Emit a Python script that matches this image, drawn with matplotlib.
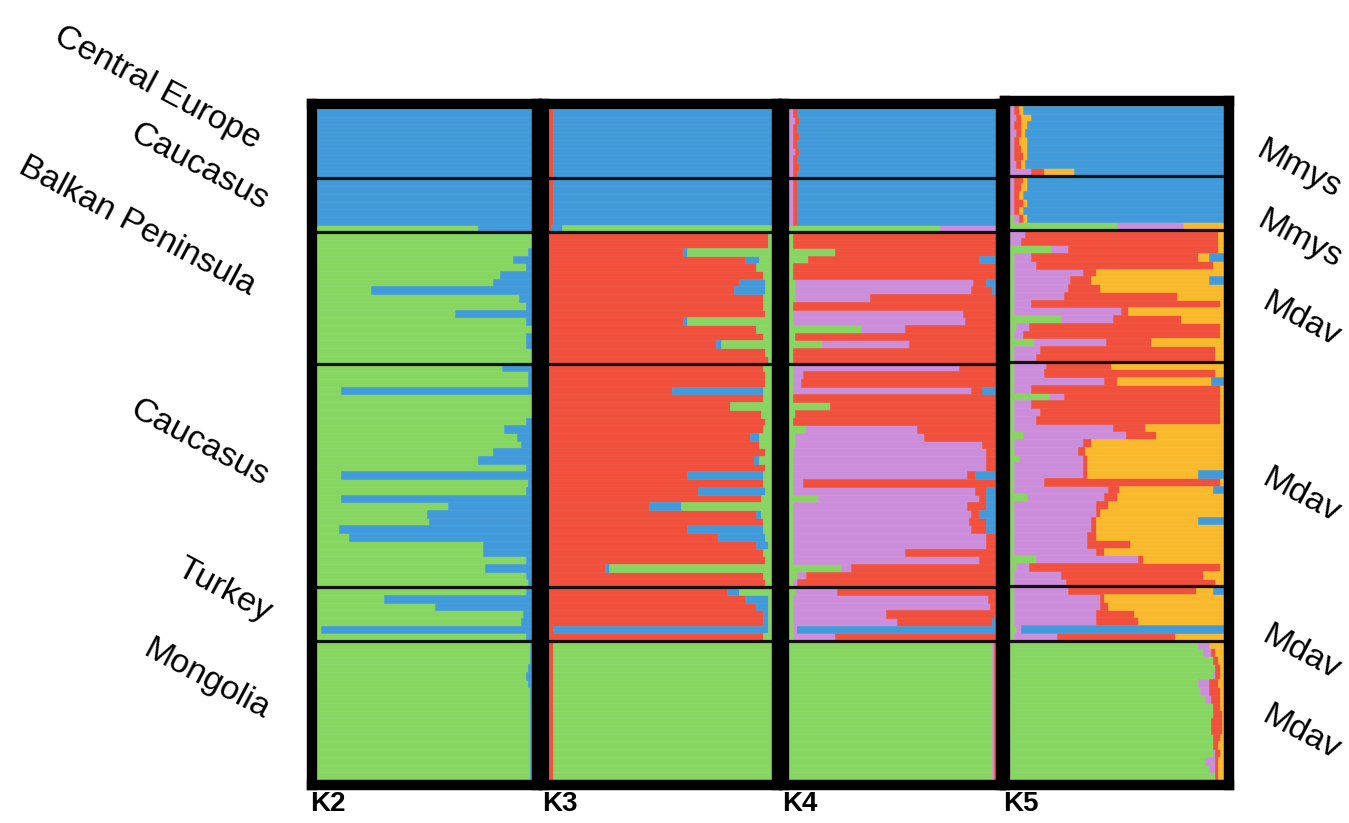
import numpy as np
import matplotlib.pyplot as plt

plt.rcParams['font.family'] = ['Liberation Sans', 'DejaVu Sans']

BLUE = '#419ad9'
GREEN = '#87d662'
RED = '#f0503c'
PURPLE = '#cc8ddb'
ORANGE = '#f9b92c'

# populations, top to bottom
pop_left = ['Central Europe', 'Caucasus', 'Balkan Peninsula', 'Caucasus', 'Turkey', 'Mongolia']
pop_right = ['Mmys', 'Mmys', 'Mdav', 'Mdav', 'Mdav', 'Mdav']

# ---- K2 : (green, blue) ----
k2_ce = [(0.0, 1.0)] * 9
k2_cau_mmys = [(0.0, 1.0)] * 6 + [(0.75, 0.25)]
k2_balkan = [(1.0, 0.0), (1.0, 0.0), (0.98, 0.02), (0.91, 0.09), (0.97, 0.03), (0.85, 0.15),
             (0.82, 0.18), (0.25, 0.75), (0.94, 0.06), (0.97, 0.03), (0.64, 0.36), (0.97, 0.03),
             (1.0, 0.0), (0.97, 0.03), (0.97, 0.03), (1.0, 0.0), (1.0, 0.0)]
k2_cau_mdav = [(0.86, 0.14), (0.98, 0.02), (0.98, 0.02), (0.11, 0.89), (1.0, 0.0), (1.0, 0.0),
               (1.0, 0.0), (0.97, 0.03), (0.87, 0.13), (0.93, 0.07), (0.95, 0.05), (0.82, 0.18),
               (0.75, 0.25), (0.97, 0.03), (0.11, 0.89), (0.98, 0.02), (0.97, 0.03), (0.11, 0.89),
               (0.61, 0.39), (0.51, 0.49), (0.52, 0.48), (0.10, 0.90), (0.15, 0.85), (0.77, 0.23),
               (0.77, 0.23), (0.97, 0.03), (0.78, 0.22), (0.97, 0.03), (0.98, 0.02)]
k2_turkey = [(0.97, 0.03), (0.31, 0.69), (0.55, 0.45), (0.96, 0.04), (0.95, 0.05),
             (0.02, 0.98), (0.97, 0.03)]
k2_mongolia = [(0.99, 0.01), (0.99, 0.01), (0.99, 0.01), (0.98, 0.02), (0.97, 0.03), (0.98, 0.02),
               (0.99, 0.01), (0.99, 0.01), (0.99, 0.01), (0.99, 0.01), (0.99, 0.01), (0.99, 0.01),
               (0.99, 0.01), (0.99, 0.01), (0.99, 0.01), (0.99, 0.01), (0.99, 0.01), (0.99, 0.01)]

# ---- K3 : (red, blue, green) ----
k3_ce = [(0.02, 0.98, 0.0)] * 9
k3_cau_mmys = [(0.02, 0.98, 0.0)] * 6 + [(0.01, 0.05, 0.94)]
k3_balkan = [(0.98, 0.0, 0.02), (0.98, 0.0, 0.02), (0.60, 0.02, 0.38), (0.88, 0.06, 0.06),
             (0.93, 0.0, 0.07), (0.96, 0.0, 0.04), (0.85, 0.12, 0.03), (0.83, 0.14, 0.03),
             (0.96, 0.0, 0.04), (0.96, 0.0, 0.04), (0.97, 0.0, 0.03), (0.60, 0.02, 0.38),
             (0.93, 0.0, 0.07), (0.96, 0.0, 0.04), (0.75, 0.02, 0.23), (0.97, 0.0, 0.03),
             (0.98, 0.0, 0.02)]
k3_cau_mdav = [(0.96, 0.0, 0.04), (0.97, 0.0, 0.03), (0.97, 0.0, 0.03), (0.55, 0.41, 0.04),
               (0.96, 0.0, 0.04), (0.81, 0.0, 0.19), (0.95, 0.0, 0.05), (0.97, 0.0, 0.03),
               (0.96, 0.0, 0.04), (0.90, 0.04, 0.06), (0.94, 0.0, 0.06), (0.97, 0.0, 0.03),
               (0.92, 0.02, 0.06), (0.97, 0.0, 0.03), (0.62, 0.34, 0.04), (0.96, 0.0, 0.04),
               (0.67, 0.30, 0.03), (0.95, 0.0, 0.05), (0.45, 0.14, 0.41), (0.93, 0.02, 0.05),
               (0.96, 0.0, 0.04), (0.62, 0.34, 0.04), (0.76, 0.21, 0.03), (0.93, 0.05, 0.02),
               (0.96, 0.0, 0.04), (0.97, 0.0, 0.03), (0.25, 0.02, 0.73), (0.96, 0.0, 0.04),
               (0.97, 0.0, 0.03)]
k3_turkey = [(0.80, 0.05, 0.15), (0.88, 0.10, 0.02), (0.93, 0.05, 0.02), (0.96, 0.02, 0.02),
             (0.96, 0.02, 0.02), (0.02, 0.96, 0.02), (0.96, 0.0, 0.04)]
k3_mongolia = [(0.02, 0.0, 0.98)] * 18

# ---- K4 : (green, purple, red, blue) ----
k4_ce = [(0.0, 0.02, 0.02, 0.96), (0.0, 0.03, 0.02, 0.95), (0.0, 0.02, 0.02, 0.96),
         (0.0, 0.02, 0.03, 0.95), (0.0, 0.02, 0.02, 0.96), (0.0, 0.03, 0.02, 0.95),
         (0.0, 0.02, 0.02, 0.96), (0.0, 0.02, 0.03, 0.95), (0.0, 0.02, 0.02, 0.96)]
k4_cau_mmys = [(0.0, 0.02, 0.02, 0.96)] * 6 + [(0.73, 0.27, 0.0, 0.0)]
k4_balkan = [(0.02, 0.0, 0.98, 0.0), (0.02, 0.0, 0.98, 0.0), (0.22, 0.0, 0.78, 0.0),
             (0.09, 0.0, 0.83, 0.08), (0.02, 0.0, 0.98, 0.0), (0.02, 0.0, 0.98, 0.0),
             (0.03, 0.86, 0.06, 0.05), (0.03, 0.85, 0.10, 0.02), (0.03, 0.36, 0.61, 0.0),
             (0.02, 0.0, 0.98, 0.0), (0.02, 0.82, 0.16, 0.0), (0.02, 0.83, 0.15, 0.0),
             (0.35, 0.21, 0.44, 0.0), (0.03, 0.0, 0.97, 0.0), (0.16, 0.42, 0.42, 0.0),
             (0.02, 0.0, 0.98, 0.0), (0.02, 0.0, 0.98, 0.0)]
k4_cau_mdav = [(0.02, 0.80, 0.18, 0.0), (0.02, 0.05, 0.93, 0.0), (0.02, 0.04, 0.94, 0.0),
               (0.02, 0.86, 0.05, 0.07), (0.02, 0.0, 0.98, 0.0), (0.20, 0.0, 0.80, 0.0),
               (0.03, 0.0, 0.97, 0.0), (0.02, 0.0, 0.98, 0.0), (0.08, 0.54, 0.38, 0.0),
               (0.03, 0.62, 0.35, 0.0), (0.03, 0.90, 0.07, 0.0), (0.02, 0.93, 0.05, 0.0),
               (0.02, 0.93, 0.05, 0.0), (0.02, 0.93, 0.05, 0.0), (0.02, 0.84, 0.04, 0.10),
               (0.02, 0.05, 0.93, 0.0), (0.02, 0.88, 0.05, 0.05), (0.14, 0.78, 0.03, 0.05),
               (0.02, 0.84, 0.09, 0.05), (0.02, 0.86, 0.04, 0.08), (0.02, 0.85, 0.08, 0.05),
               (0.02, 0.86, 0.07, 0.05), (0.02, 0.93, 0.05, 0.0), (0.02, 0.93, 0.05, 0.0),
               (0.02, 0.54, 0.44, 0.0), (0.02, 0.90, 0.08, 0.0), (0.25, 0.05, 0.70, 0.0),
               (0.04, 0.04, 0.92, 0.0), (0.02, 0.02, 0.96, 0.0)]
k4_turkey = [(0.03, 0.20, 0.77, 0.0), (0.02, 0.94, 0.04, 0.0), (0.02, 0.95, 0.03, 0.0),
             (0.02, 0.45, 0.53, 0.0), (0.02, 0.50, 0.46, 0.02), (0.02, 0.02, 0.0, 0.96),
             (0.02, 0.20, 0.78, 0.0)]
k4_mongolia = [(0.98, 0.01, 0.01, 0.0)] * 18

# ---- K5 : (green, purple, red, orange, blue) ----
k5_ce = [(0.0, 0.02, 0.02, 0.02, 0.94), (0.0, 0.03, 0.02, 0.05, 0.90), (0.0, 0.02, 0.03, 0.03, 0.92),
         (0.0, 0.03, 0.02, 0.02, 0.93), (0.0, 0.02, 0.02, 0.04, 0.92), (0.0, 0.02, 0.03, 0.03, 0.92),
         (0.0, 0.02, 0.04, 0.02, 0.92), (0.0, 0.03, 0.02, 0.02, 0.93), (0.0, 0.10, 0.06, 0.14, 0.70)]
k5_cau_mmys = [(0.0, 0.02, 0.04, 0.02, 0.92), (0.0, 0.02, 0.03, 0.03, 0.92), (0.0, 0.02, 0.02, 0.02, 0.94),
               (0.0, 0.02, 0.04, 0.02, 0.92), (0.0, 0.02, 0.02, 0.02, 0.94), (0.02, 0.02, 0.02, 0.02, 0.92),
               (0.50, 0.31, 0.0, 0.19, 0.0)]
k5_balkan = [(0.0, 0.07, 0.90, 0.03, 0.0), (0.0, 0.05, 0.92, 0.03, 0.0), (0.19, 0.08, 0.70, 0.03, 0.0),
             (0.02, 0.08, 0.78, 0.05, 0.07), (0.02, 0.10, 0.83, 0.05, 0.0), (0.02, 0.32, 0.06, 0.60, 0.0),
             (0.02, 0.26, 0.10, 0.55, 0.07), (0.02, 0.25, 0.15, 0.58, 0.0), (0.02, 0.23, 0.53, 0.22, 0.0),
             (0.02, 0.08, 0.88, 0.02, 0.0), (0.02, 0.50, 0.03, 0.45, 0.0), (0.24, 0.24, 0.32, 0.20, 0.0),
             (0.03, 0.06, 0.89, 0.02, 0.0), (0.02, 0.04, 0.92, 0.02, 0.0), (0.11, 0.34, 0.21, 0.34, 0.0),
             (0.02, 0.12, 0.82, 0.04, 0.0), (0.02, 0.10, 0.84, 0.04, 0.0)]
k5_cau_mdav = [(0.02, 0.15, 0.30, 0.53, 0.0), (0.02, 0.14, 0.80, 0.04, 0.0), (0.02, 0.42, 0.06, 0.44, 0.06),
               (0.02, 0.08, 0.88, 0.02, 0.0), (0.18, 0.07, 0.73, 0.02, 0.0), (0.02, 0.08, 0.88, 0.02, 0.0),
               (0.02, 0.12, 0.84, 0.02, 0.0), (0.02, 0.10, 0.86, 0.02, 0.0), (0.02, 0.46, 0.15, 0.37, 0.0),
               (0.06, 0.48, 0.14, 0.32, 0.0), (0.02, 0.32, 0.04, 0.62, 0.0), (0.02, 0.30, 0.03, 0.65, 0.0),
               (0.04, 0.30, 0.02, 0.64, 0.0), (0.02, 0.32, 0.02, 0.64, 0.0), (0.02, 0.32, 0.02, 0.52, 0.12),
               (0.02, 0.14, 0.82, 0.02, 0.0), (0.02, 0.44, 0.05, 0.44, 0.05), (0.08, 0.36, 0.06, 0.50, 0.0),
               (0.02, 0.38, 0.06, 0.54, 0.0), (0.02, 0.38, 0.02, 0.58, 0.0), (0.02, 0.36, 0.02, 0.48, 0.12),
               (0.02, 0.36, 0.02, 0.60, 0.0), (0.02, 0.34, 0.04, 0.60, 0.0), (0.02, 0.34, 0.20, 0.44, 0.0),
               (0.02, 0.38, 0.04, 0.56, 0.0), (0.12, 0.48, 0.02, 0.38, 0.0), (0.03, 0.06, 0.89, 0.02, 0.0),
               (0.02, 0.22, 0.66, 0.10, 0.0), (0.02, 0.24, 0.70, 0.04, 0.0)]
k5_turkey = [(0.02, 0.25, 0.60, 0.08, 0.05), (0.02, 0.40, 0.02, 0.56, 0.0), (0.02, 0.40, 0.04, 0.54, 0.0),
             (0.02, 0.38, 0.18, 0.42, 0.0), (0.02, 0.38, 0.20, 0.40, 0.0), (0.03, 0.02, 0.0, 0.0, 0.95),
             (0.02, 0.20, 0.55, 0.23, 0.0)]
k5_mongolia = [(0.88, 0.05, 0.0, 0.07, 0.0), (0.90, 0.04, 0.02, 0.04, 0.0), (0.95, 0.0, 0.02, 0.03, 0.0),
               (0.96, 0.0, 0.02, 0.02, 0.0), (0.95, 0.01, 0.02, 0.02, 0.0), (0.88, 0.05, 0.04, 0.03, 0.0),
               (0.89, 0.04, 0.05, 0.02, 0.0), (0.91, 0.03, 0.04, 0.02, 0.0), (0.95, 0.0, 0.03, 0.02, 0.0),
               (0.95, 0.0, 0.04, 0.01, 0.0), (0.94, 0.0, 0.05, 0.01, 0.0), (0.94, 0.0, 0.05, 0.01, 0.0),
               (0.95, 0.0, 0.03, 0.02, 0.0), (0.95, 0.0, 0.02, 0.03, 0.0), (0.95, 0.01, 0.02, 0.02, 0.0),
               (0.91, 0.05, 0.01, 0.03, 0.0), (0.93, 0.03, 0.01, 0.03, 0.0), (0.96, 0.0, 0.01, 0.03, 0.0)]

panels = [
    ('K2', [GREEN, BLUE], [k2_ce, k2_cau_mmys, k2_balkan, k2_cau_mdav, k2_turkey, k2_mongolia]),
    ('K3', [RED, BLUE, GREEN], [k3_ce, k3_cau_mmys, k3_balkan, k3_cau_mdav, k3_turkey, k3_mongolia]),
    ('K4', [GREEN, PURPLE, RED, BLUE], [k4_ce, k4_cau_mmys, k4_balkan, k4_cau_mdav, k4_turkey, k4_mongolia]),
    ('K5', [GREEN, PURPLE, RED, ORANGE, BLUE], [k5_ce, k5_cau_mmys, k5_balkan, k5_cau_mdav, k5_turkey, k5_mongolia]),
]

W, H = 1349, 823
fig = plt.figure(figsize=(W / 100, H / 100), dpi=100)

# frame centre lines of each panel (pixels)
frames = [(312, 537), (544, 777), (784, 1001), (1005, 1229)]
tops = [104, 104, 104, 101]
bottom = 785
pad = 5  # px hidden under the thick frame

for (name, colors, pops), (x0, x1), top in zip(panels, frames, tops):
    rows = np.array([r for p in pops for r in p], dtype=float)
    rows = rows / rows.sum(axis=1, keepdims=True)
    n = len(rows)
    ax = fig.add_axes([x0 / W, 1 - bottom / H, (x1 - x0) / W, (bottom - top) / H])
    y = np.arange(n)
    left = np.zeros(n)
    for j, c in enumerate(colors):
        ax.barh(y, rows[:, j], left=left, height=1.0, color=c, edgecolor=c, linewidth=0.4)
        left += rows[:, j]
    mx = pad / (x1 - x0 - 2 * pad)
    my = pad * n / (bottom - top - 2 * pad)
    ax.set_xlim(-mx, 1 + mx)
    ax.set_ylim(n - 0.5 + my, -0.5 - my)
    for b in np.cumsum([len(p) for p in pops])[:-1]:
        ax.axhline(b - 0.5, color='#111111', lw=2.3)
    ax.set_xticks([])
    ax.set_yticks([])
    for s in ax.spines.values():
        s.set_linewidth(7.5)
        s.set_color('black')
    fig.text((x0 - 2) / W, 1 - 804 / H, name, fontsize=20, fontweight='bold', ha='left', va='center')

# rotated population labels
left_pos = [(157, 88), (199, 167), (137, 226), (199, 443), (224, 590), (206, 680)]
for s, (x, y) in zip(pop_left, left_pos):
    fig.text(x / W, 1 - y / H, s, fontsize=24.5, rotation=-28, ha='center', va='center')

right_pos = [(1299, 170), (1300, 240), (1301, 320), (1301, 496), (1301, 653), (1301, 733)]
for s, (x, y) in zip(pop_right, right_pos):
    fig.text(x / W, 1 - y / H, s, fontsize=24.5, rotation=-28, ha='center', va='center')

fig.savefig('out.png', dpi=100)
